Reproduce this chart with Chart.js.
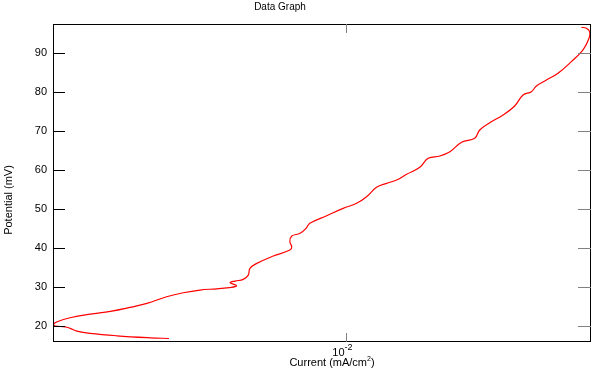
<!DOCTYPE html>
<html>
<head>
<meta charset="utf-8">
<script src="https://cdn.jsdelivr.net/npm/chart.js@4"></script>
<style>
  body { margin: 0; background: #fff; }
  canvas { display: block; }
</style>
</head>
<body>
<canvas id="chart" width="599" height="373"></canvas>
<script>
// Current (mA/cm2), in scan order
const current = [
  0.00433, 0.00396, 0.00338, 0.00298, 0.00280, 0.00271, 0.00265, 0.00253,
  0.002506, 0.00255, 0.00271, 0.00298, 0.00328, 0.00360, 0.00390, 0.00428,
  0.00463, 0.00501, 0.00543, 0.00582, 0.00596, 0.00578, 0.00592, 0.00615,
  0.00630, 0.00635, 0.00656, 0.00709, 0.00767, 0.00774, 0.00767, 0.00774,
  0.00805, 0.00828, 0.00843, 0.00913, 0.00987, 0.01052, 0.01103, 0.01156,
  0.01212, 0.01271, 0.01333, 0.01419, 0.01476, 0.01560, 0.01636, 0.01729,
  0.01840, 0.01884, 0.01975, 0.02104, 0.02223, 0.02313, 0.02406, 0.02464,
  0.02583, 0.02729, 0.02907, 0.03072, 0.03160, 0.03170, 0.03121, 0.03048
];

// Potential (mV)
const potential = [
  16.9, 17.08, 17.59, 18.21, 18.79, 19.49, 19.9, 20.08,
  20.51, 21.18, 22.21, 23.15, 23.85, 24.87, 25.9, 27.59,
  28.62, 29.31, 29.64, 30.0, 30.46, 31.18, 31.62, 32.05,
  33.15, 34.87, 36.15, 38.03, 39.56, 40.41, 41.69, 43.15,
  43.85, 45.13, 46.41, 48.36, 50.26, 51.54, 53.23, 55.64,
  56.67, 57.51, 58.97, 60.77, 63.08, 63.67, 64.77, 67.18,
  68.21, 70.33, 72.21, 74.18, 76.49, 79.31, 80.15, 81.62,
  83.15, 84.87, 87.85, 90.85, 93.85, 95.54, 96.41, 96.67
];

const yTicks = [20, 30, 40, 50, 60, 70, 80, 90];
const xTicks = [0.01];

const FONT = "Arial, 'Liberation Sans', sans-serif";

const points = current.map((c, i) => ({ x: c, y: potential[i] }));

const framePlugin = {
  id: "frame",
  afterDraw(chart) {
    const ctx = chart.ctx;
    const area = chart.chartArea;
    const xs = chart.scales.x;
    const ys = chart.scales.y;

    ctx.save();
    // plot frame
    ctx.strokeStyle = "#000";
    ctx.lineWidth = 1;
    ctx.strokeRect(area.left + 0.5, area.top + 0.5,
      area.right - area.left - 1, area.bottom - area.top - 1);

    // y ticks (inward)
    yTicks.forEach((v) => {
      const py = Math.round(ys.getPixelForValue(v)) + 0.5;
      ctx.strokeStyle = "#000";
      ctx.beginPath();
      ctx.moveTo(area.left, py);
      ctx.lineTo(area.left + 12, py);
      ctx.stroke();
      ctx.strokeStyle = "#808080";
      ctx.beginPath();
      ctx.moveTo(area.right - 13, py);
      ctx.lineTo(area.right, py);
      ctx.stroke();
    });

    // x ticks (inward, top and bottom)
    xTicks.forEach((v) => {
      const px = Math.round(xs.getPixelForValue(v)) + 0.5;
      ctx.strokeStyle = "#808080";
      ctx.beginPath();
      ctx.moveTo(px, area.top);
      ctx.lineTo(px, area.top + 9);
      ctx.moveTo(px, area.bottom);
      ctx.lineTo(px, area.bottom - 9);
      ctx.stroke();

      // 10^-2 label
      ctx.fillStyle = "#000";
      ctx.textBaseline = "middle";
      ctx.font = "11px " + FONT;
      ctx.textAlign = "right";
      ctx.fillText("10", px - 2, 353);
      ctx.font = "9px " + FONT;
      ctx.textAlign = "left";
      ctx.fillText("-2", px - 2, 348);
    });

    // x axis title with superscript
    ctx.fillStyle = "#000";
    ctx.textBaseline = "middle";
    const mainPart = "Current (mA/cm";
    ctx.font = "11px " + FONT;
    const w1 = ctx.measureText(mainPart).width;
    ctx.font = "7px " + FONT;
    const w2 = ctx.measureText("2").width;
    ctx.font = "11px " + FONT;
    const w3 = ctx.measureText(")").width;
    const cx = (area.left + area.right) / 2 + 10;
    let sx = cx - (w1 + w2 + w3) / 2;
    ctx.textAlign = "left";
    ctx.fillText(mainPart, sx, 363);
    ctx.font = "7px " + FONT;
    ctx.fillText("2", sx + w1, 359);
    ctx.font = "11px " + FONT;
    ctx.fillText(")", sx + w1 + w2, 363);

    // y axis title
    ctx.save();
    ctx.translate(9, 200);
    ctx.rotate(-Math.PI / 2);
    ctx.textAlign = "center";
    ctx.textBaseline = "middle";
    ctx.font = "11px " + FONT;
    ctx.fillText("Potential (mV)", 0, 0);
    ctx.restore();

    // chart title
    ctx.textAlign = "center";
    ctx.textBaseline = "middle";
    ctx.font = "10px " + FONT;
    ctx.fillText("Data Graph", 280, 7);

    ctx.restore();
  },
};

new Chart(document.getElementById("chart").getContext("2d"), {
  type: "scatter",
  data: {
    datasets: [
      {
        data: points,
        showLine: true,
        borderColor: "rgb(255, 0, 0)",
        borderWidth: 1.2,
        pointRadius: 0,
        tension: 0.4,
        fill: false,
      },
    ],
  },
  options: {
    responsive: false,
    animation: false,
    layout: {
      padding: { top: 24, right: 8, left: 0, bottom: 0 },
    },
    plugins: {
      legend: { display: false },
      tooltip: { enabled: false },
      title: { display: false },
    },
    scales: {
      x: {
        type: "logarithmic",
        min: 0.0025,
        max: 0.0319,
        grid: { display: false, drawTicks: false },
        border: { display: false },
        ticks: { display: false },
        afterFit(scale) {
          scale.height = 31;
        },
      },
      y: {
        type: "linear",
        min: 16,
        max: 97.5,
        grid: { display: false, drawTicks: false },
        border: { display: false },
        ticks: {
          color: "#000",
          padding: 6,
          font: { size: 11, family: FONT },
        },
        afterBuildTicks(scale) {
          scale.ticks = yTicks.map((v) => ({ value: v }));
        },
        afterFit(scale) {
          scale.width = 53;
        },
      },
    },
  },
  plugins: [framePlugin],
});
</script>
</body>
</html>
